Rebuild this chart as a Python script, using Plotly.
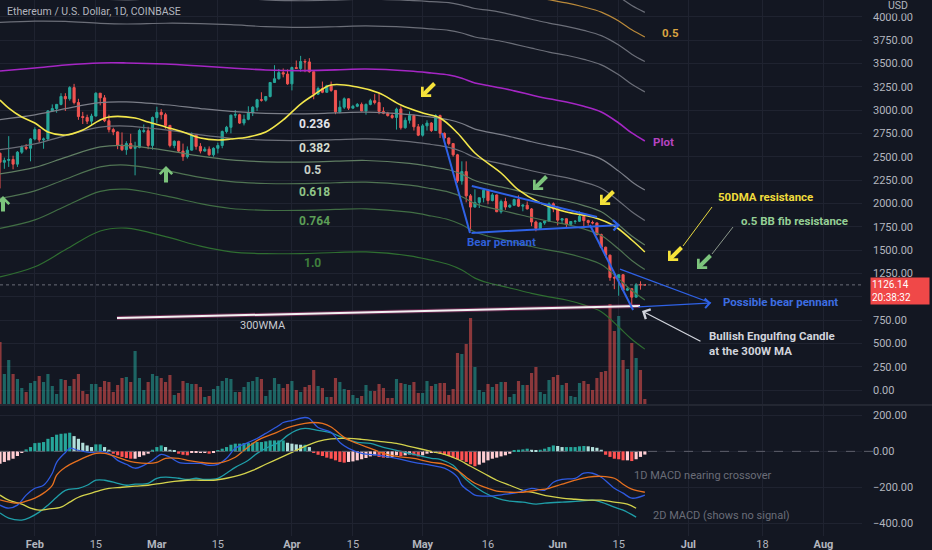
import pandas as pd
import plotly.graph_objects as go

# ---- daily ETH/USD candles (Coinbase), 24 Jan - 21 Jun 2022 ----
dates = pd.date_range("2022-01-24", periods=149, freq="D")

opens = [2536, 2440, 2460, 2470, 2420, 2548, 2600, 2590, 2690, 2790, 2680, 2690, 2990, 3015, 3060, 3145,
         3120, 3240, 3080, 2930, 2920, 2880, 2935, 3180, 3130, 2885, 2790, 2765, 2625, 2575, 2640, 2590,
         2600, 2770, 2778, 2620, 2920, 2975, 2950, 2835, 2620, 2665, 2560, 2500, 2570, 2730, 2610, 2560,
         2580, 2520, 2590, 2620, 2770, 2815, 2945, 2950, 2860, 2900, 2970, 3030, 3110, 3105, 3145, 3295,
         3335, 3400, 3385, 3280, 3455, 3445, 3520, 3515, 3410, 3170, 3230, 3190, 3260, 3210, 2980, 3030,
         3120, 3020, 3040, 3060, 2990, 3060, 3100, 3080, 2985, 2965, 2940, 2920, 3010, 2810, 2890, 2940,
         2820, 2730, 2830, 2860, 2780, 2940, 2750, 2700, 2640, 2520, 2240, 2340, 2080, 1960, 2010, 2060,
         2140, 2030, 2090, 1910, 2020, 1960, 1980, 2040, 1970, 1980, 1940, 1800, 1730, 1790, 1810, 1995,
         1940, 1820, 1835, 1775, 1805, 1808, 1860, 1815, 1795, 1790, 1665, 1530, 1445, 1205, 1200, 1235,
         1070, 1085, 995, 1128, 1127]
highs = [2545, 2490, 2720, 2510, 2560, 2620, 2635, 2700, 2815, 2790, 2705, 3000, 3060, 3065, 3180, 3180,
         3255, 3280, 3120, 2980, 2950, 2960, 3190, 3180, 3160, 2950, 2810, 2770, 2760, 2665, 2745, 2660,
         2800, 2845, 2820, 2930, 3035, 3010, 2970, 2840, 2675, 2670, 2640, 2610, 2760, 2735, 2645, 2605,
         2610, 2600, 2650, 2780, 2830, 2950, 3000, 2960, 2950, 3040, 3040, 3120, 3190, 3150, 3300, 3480,
         3440, 3445, 3435, 3465, 3530, 3580, 3545, 3555, 3415, 3250, 3305, 3270, 3305, 3210, 3100, 3135,
         3125, 3055, 3075, 3080, 3070, 3120, 3170, 3185, 3030, 2980, 2970, 3025, 3040, 2920, 2985, 2950,
         2850, 2850, 2890, 2870, 2955, 2950, 2760, 2705, 2645, 2530, 2450, 2450, 2100, 2150, 2060, 2150,
         2150, 2110, 2095, 2040, 2060, 1990, 2050, 2085, 1990, 2020, 1950, 1815, 1800, 1815, 2010, 2010,
         1970, 1840, 1840, 1810, 1820, 1915, 1865, 1825, 1815, 1795, 1675, 1535, 1450, 1245, 1240, 1240,
         1110, 1090, 1145, 1165, 1135]
lows = [2160, 2370, 2390, 2365, 2390, 2530, 2570, 2450, 2675, 2650, 2585, 2680, 2985, 2970, 3050, 2990,
        3100, 3060, 2895, 2850, 2850, 2830, 2930, 3050, 2870, 2760, 2730, 2580, 2560, 2520, 2580, 2300,
        2590, 2755, 2580, 2575, 2860, 2900, 2800, 2600, 2590, 2550, 2455, 2480, 2565, 2575, 2535, 2555,
        2510, 2500, 2535, 2590, 2750, 2750, 2915, 2850, 2835, 2890, 2935, 2990, 3090, 3090, 3135, 3290,
        3325, 3350, 3270, 3210, 3440, 3410, 3405, 3400, 3115, 3160, 3180, 3185, 3195, 2955, 2965, 3010,
        3000, 3015, 3030, 2985, 2950, 3050, 3060, 2955, 2955, 2930, 2905, 2790, 2790, 2800, 2855, 2780,
        2720, 2715, 2780, 2765, 2775, 2700, 2650, 2620, 2500, 2220, 2200, 2010, 1700, 1955, 1950, 2010,
        1990, 2020, 1905, 1890, 1930, 1950, 1975, 1960, 1915, 1935, 1755, 1700, 1715, 1770, 1800, 1905,
        1765, 1780, 1735, 1760, 1780, 1800, 1730, 1760, 1775, 1655, 1520, 1420, 1170, 1080, 1010, 1060,
        1060, 880, 990, 1075, 1118]
closes = [2440, 2460, 2470, 2420, 2548, 2600, 2590, 2690, 2790, 2680, 2690, 2990, 3015, 3060, 3145, 3120,
          3240, 3080, 2930, 2920, 2880, 2935, 3180, 3130, 2885, 2790, 2765, 2625, 2575, 2640, 2590, 2600,
          2780, 2778, 2620, 2920, 2975, 2950, 2835, 2620, 2665, 2560, 2500, 2570, 2730, 2610, 2560, 2580,
          2520, 2590, 2620, 2770, 2815, 2945, 2950, 2860, 2900, 2970, 3030, 3110, 3105, 3145, 3295, 3335,
          3400, 3385, 3280, 3455, 3445, 3520, 3515, 3410, 3170, 3230, 3190, 3260, 3210, 2980, 3030, 3120,
          3020, 3040, 3060, 2990, 3060, 3100, 3080, 2985, 2965, 2940, 2920, 3010, 2810, 2890, 2940, 2820,
          2730, 2830, 2860, 2780, 2940, 2750, 2700, 2640, 2520, 2240, 2340, 2080, 1960, 2010, 2060, 2140,
          2030, 2090, 1910, 2020, 1960, 1980, 2040, 1970, 1980, 1940, 1800, 1730, 1790, 1810, 1995, 1940,
          1820, 1835, 1775, 1805, 1808, 1860, 1815, 1795, 1790, 1665, 1530, 1445, 1205, 1200, 1235, 1070,
          1085, 995, 1128, 1127, 1126.14]
volumes = [620, 300, 440, 300, 250, 160, 120, 210, 230, 280, 220, 300, 180, 100, 250, 240,
           180, 250, 300, 130, 100, 200, 200, 170, 230, 220, 120, 190, 260, 270, 220, 530,
           260, 140, 220, 300, 280, 260, 220, 290, 90, 110, 230, 210, 200, 200, 170, 70,
           80, 150, 180, 230, 260, 250, 120, 120, 170, 220, 230, 270, 250, 80, 140, 260,
           200, 160, 200, 230, 140, 120, 170, 190, 340, 180, 160, 70, 70, 260, 220, 150,
           140, 90, 60, 80, 190, 130, 130, 200, 160, 60, 60, 250, 210, 200, 190, 220,
           110, 110, 230, 180, 200, 210, 210, 90, 150, 510, 500, 600, 860, 370, 140, 120,
           200, 170, 200, 220, 220, 70, 100, 230, 190, 190, 310, 370, 120, 100, 240, 270,
           290, 190, 210, 80, 70, 210, 230, 200, 140, 260, 320, 330, 1000, 730, 880, 440,
           350, 610, 460, 340, 50]

# ---- Bollinger fib bands: basis ("Plot") and 1.0 deviation, sampled ----
band_idx = [0, 8, 15, 23, 29, 38, 46, 53, 61, 69, 77, 84, 94, 99, 103, 106, 109, 112, 115, 118,
            122, 126, 130, 134, 138, 142, 145, 148]
basis = [3418, 3450, 3482, 3504, 3504, 3493, 3471, 3450, 3429, 3422, 3430, 3439, 3418, 3396, 3375,
         3340, 3289, 3262, 3236, 3205, 3161, 3120, 3086, 3040, 2979, 2861, 2754, 2668]
deviation = [2207, 2130, 1980, 1800, 1770, 1850, 1930, 1970, 1968, 1960, 1957, 1960, 1980, 2005, 2030,
             2054, 2090, 2113, 2120, 2123, 2125, 2123, 2122, 2128, 2140, 2186, 2210, 2230]
fib_levels = [0.236, 0.382, 0.5, 0.618, 0.764, 1.0]

# ---- 50DMA ----
ma_idx = [0, 2, 5, 8, 11, 15, 19, 23, 25, 31, 34, 38, 42, 46, 50, 53, 57, 61, 65, 69, 72, 76, 82,
          87, 92, 97, 101, 105, 109, 115, 119, 124, 130, 136, 141, 145, 148]
ma50 = [3107, 3021, 2925, 2861, 2764, 2732, 2786, 2893, 2925, 2914, 2871, 2818, 2764, 2700, 2679,
        2689, 2711, 2764, 2893, 3064, 3161, 3268, 3246, 3182, 3054, 2968, 2914, 2754, 2539, 2325,
        2143, 2004, 1907, 1854, 1757, 1607, 1479]

# ---- MACD panel ----
macd_hist = [-69, -59, -50, -41, -26, -9, 11, 24, 46, 48, 52, 70, 80, 93, 98, 100, 104, 85, 70, 48,
             33, 24, 39, 39, 24, 9, -13, -22, -31, -37, -41, -41, -31, -22, -13, 9, 24, 33, 24, 9,
             6, -13, -19, -22, -9, -9, -9, -9, -13, -9, 4, 15, 24, 37, 43, 43, 46, 46, 48, 52,
             52, 56, 61, 61, 61, 61, 48, 43, 39, 37, 37, 24, -9, -19, -26, -35, -41, -50, -59, -63,
             -59, -56, -50, -44, -37, -28, -22, -31, -35, -35, -31, -22, -26, -22, -17, -22, -28, -22, -13, -9,
             -9, -13, -19, -26, -35, -44, -50, -59, -72, -83, -74, -63, -50, -41, -35, -28, -22, -13, 6, 9,
             11, 15, 9, 6, 9, 15, 24, 33, 30, 24, 24, 24, 24, 28, 30, 28, 24, 20, 9, -19,
             -31, -41, -44, -50, -50, -54, -44, -31, -18]
macd1_idx = [0, 2, 4, 6, 8, 10, 12, 13, 15, 16, 18, 21, 23, 25, 27, 29, 31, 33, 35, 37, 39, 41, 44,
             46, 48, 50, 52, 54, 57, 59, 61, 64, 65, 67, 70, 71, 73, 76, 78, 80, 83, 87, 91, 95, 99,
             102, 105, 106, 108, 109, 112, 116, 119, 122, 125, 127, 129, 132, 134, 136, 138, 141, 143,
             145, 148]
macd1 = [-300, -317, -300, -244, -206, -189, -122, -61, -6, 17, 6, -6, 0, -11, -50, -72, -94, -78, -50,
         -17, -33, -61, -67, -67, -78, -72, -39, 17, 50, 72, 100, 144, 161, 172, 189, 183, 133, 106, 50,
         17, -11, -22, -39, -61, -78, -94, -144, -189, -228, -244, -250, -239, -228, -206, -217, -172,
         -156, -150, -122, -122, -144, -206, -233, -261, -244]
signal1_idx = [0, 4, 6, 8, 10, 12, 13, 15, 18, 20, 22, 24, 27, 29, 31, 34, 36, 38, 41, 43, 46, 49,
               51, 54, 56, 58, 60, 63, 65, 67, 70, 72, 74, 76, 79, 82, 85, 88, 91, 95, 99, 102, 105,
               107, 109, 112, 114, 117, 120, 123, 126, 129, 132, 135, 138, 141, 143, 145, 148]
signal1 = [-270, -289, -278, -261, -233, -189, -133, -89, -50, -28, -11, -11, -33, -50, -61, -67, -61,
           -39, -39, -50, -61, -67, -61, -33, 6, 44, 72, 100, 122, 139, 156, 161, 156, 136, 78, 44, 17,
           -11, -28, -39, -61, -72, -106, -144, -178, -206, -222, -228, -228, -217, -206, -183, -161,
           -144, -139, -150, -183, -211, -228]
macd2_idx = [0, 2, 5, 7, 9, 11, 13, 15, 18, 20, 22, 24, 27, 29, 31, 34, 36, 38, 41, 43, 45, 47, 50,
             52, 54, 57, 59, 61, 64, 66, 68, 70, 73, 76, 79, 82, 85, 88, 91, 95, 99, 101, 104, 106,
             108, 111, 114, 117, 120, 123, 125, 129, 133, 136, 138, 141, 143, 146]
macd2 = [-344, -372, -383, -367, -339, -300, -256, -217, -206, -189, -161, -161, -178, -189, -183, -178,
         -150, -144, -150, -156, -150, -156, -150, -122, -89, -50, -11, 17, 50, 89, 117, 128, 117, 103,
         72, 50, 44, 22, 6, -17, -39, -44, -78, -133, -178, -228, -261, -278, -283, -294, -289, -283,
         -278, -272, -283, -311, -328, -367]
signal2_idx = [0, 2, 5, 7, 9, 11, 14, 16, 18, 21, 23, 25, 28, 31, 34, 37, 40, 43, 46, 49, 52, 55, 58,
               61, 64, 67, 70, 73, 76, 80, 83, 87, 91, 95, 99, 102, 105, 108, 111, 114, 117, 120, 123,
               126, 129, 132, 135, 138, 141, 144, 146]
signal2 = [-244, -272, -294, -317, -328, -322, -311, -283, -256, -233, -217, -206, -200, -194, -189,
           -178, -167, -161, -161, -161, -150, -133, -106, -72, -39, -6, 28, 56, 70, 72, 67, 56, 44, 22,
           0, -17, -44, -83, -122, -161, -189, -217, -233, -250, -261, -267, -272, -272, -283, -294, -317]

# axis ticks
price_ticks = list(range(0, 4001, 250))
macd_ticks = [200, 0, -200, -400]
x_ticks = ["2022-02-01", "2022-02-15", "2022-03-01", "2022-03-15", "2022-04-01", "2022-04-15",
           "2022-05-01", "2022-05-16", "2022-06-01", "2022-06-15", "2022-07-01", "2022-07-18",
           "2022-08-01"]
x_labels = ["<b>Feb</b>", "15", "<b>Mar</b>", "15", "<b>Apr</b>", "15", "<b>May</b>", "16",
            "<b>Jun</b>", "15", "<b>Jul</b>", "18", "<b>Aug</b>"]
last_price = 1126.14

# ---------------------------------------------------------------
BG = "#131722"
GRID = "#1f2330"
TXT = "#b2b5be"
UP, DOWN = "#26a69a", "#ef5350"
W, H = 932, 550
PLOT_W, PLOT_H = 862, 536          # plot area in px (right axis outside)
FONT = "Roboto, sans-serif"


def px(x):
    return x / PLOT_W


def py(y):
    return 1 - y / PLOT_H


fig = go.Figure()

# volume (bottom of price pane, own hidden scale)
vol_colors = ["rgba(38,166,154,0.55)" if c >= o else "rgba(239,83,80,0.55)"
              for o, c in zip(opens, closes)]
fig.add_trace(go.Bar(x=dates, y=volumes, marker_color=vol_colors, marker_line_width=0,
                     xaxis="x", yaxis="y", hoverinfo="skip"))

# bands
band_x = dates[band_idx]
upper_cols = ["#6b6e78", "#6b6e78", "#b9893a", "#6b6e78", "#6b6e78", "#6b6e78"]
lower_cols = ["#7b7e88", "#6b6e78", "#5f7d62", "#4f7352", "#416e44", "#2f6e31"]
for k, f in enumerate(fib_levels):
    up = [b + f * d for b, d in zip(basis, deviation)]
    lo = [b - f * d for b, d in zip(basis, deviation)]
    fig.add_trace(go.Scatter(x=band_x, y=up, mode="lines", line=dict(color=upper_cols[k], width=1.2,
                             shape="spline"), xaxis="x", yaxis="y3", hoverinfo="skip"))
    fig.add_trace(go.Scatter(x=band_x, y=lo, mode="lines", line=dict(color=lower_cols[k], width=1.2,
                             shape="spline"), xaxis="x", yaxis="y3", hoverinfo="skip"))
fig.add_trace(go.Scatter(x=band_x, y=basis, mode="lines", line=dict(color="#a526c4", width=1.6,
                         shape="spline"), xaxis="x", yaxis="y3", hoverinfo="skip"))

# 50DMA
fig.add_trace(go.Scatter(x=dates[ma_idx], y=ma50, mode="lines",
                         line=dict(color="#f3e74b", width=1.6, shape="spline"),
                         xaxis="x", yaxis="y3", hoverinfo="skip"))

# candles
fig.add_trace(go.Candlestick(x=dates, open=opens, high=highs, low=lows, close=closes,
                             increasing=dict(line=dict(color=UP, width=1), fillcolor=UP),
                             decreasing=dict(line=dict(color=DOWN, width=1), fillcolor=DOWN),
                             whiskerwidth=0, xaxis="x", yaxis="y3", hoverinfo="skip"))

# MACD histogram colours (rising / falling like TradingView)
hist_cols = []
for i, v in enumerate(macd_hist):
    prev = macd_hist[i - 1] if i else v
    if v >= 0:
        hist_cols.append("#26a69a" if v >= prev else "#b2dfdb")
    else:
        hist_cols.append("#ff5252" if v < prev else "#ffcdd2")
fig.add_trace(go.Bar(x=dates, y=macd_hist, marker_color=hist_cols, marker_line_width=0,
                     xaxis="x2", yaxis="y2", hoverinfo="skip"))
for idx, vals, col in [(macd2_idx, macd2, "#1f9ea8"), (signal2_idx, signal2, "#d3d24c"),
                       (macd1_idx, macd1, "#2f5ae0"), (signal1_idx, signal1, "#e6701f")]:
    fig.add_trace(go.Scatter(x=dates[idx], y=vals, mode="lines",
                             line=dict(color=col, width=1.3, shape="spline"),
                             xaxis="x2", yaxis="y2", hoverinfo="skip"))

# ---- layout ----
x_range = ["2022-01-24 00:00", "2022-08-09 20:10"]
price_dom = [1 - 404 / PLOT_H, 1]
macd_dom = [0, 1 - 406 / PLOT_H]
axis_font = dict(family=FONT, size=11, color=TXT)

fig.update_layout(
    width=W, height=H, margin=dict(l=0, r=W - PLOT_W, t=0, b=H - PLOT_H),
    paper_bgcolor=BG, plot_bgcolor=BG, showlegend=False, bargap=0.28,
    font=dict(family=FONT, color=TXT),
    xaxis=dict(domain=[0, 1], range=x_range, anchor="y", showticklabels=False,
               tickvals=x_ticks, showgrid=True, gridcolor=GRID, zeroline=False,
               rangeslider=dict(visible=False), showline=False),
    yaxis=dict(domain=price_dom, range=[0, 4040], visible=False, fixedrange=True),
    yaxis3=dict(overlaying="y", side="right", range=[-150, 4178.6], anchor="x",
                tickvals=price_ticks,
                ticktext=["" if v == 1000 else f"{v:.2f}" for v in price_ticks],
                showgrid=True, gridcolor=GRID, zeroline=False, ticks="",
                ticklabelstandoff=10, tickfont=axis_font, showline=False),
    xaxis2=dict(domain=[0, 1], range=x_range, anchor="y2", tickvals=x_ticks, ticktext=x_labels,
                showgrid=True, gridcolor=GRID, zeroline=False, ticks="", tickfont=axis_font,
                showline=False),
    yaxis2=dict(domain=macd_dom, range=[-472, 253], side="right", anchor="x2",
                tickvals=macd_ticks,
                ticktext=["200.00", "0.00", "\u2212200.00", "\u2212400.00"],
                showgrid=True, gridcolor=GRID, zeroline=False, ticks="",
                ticklabelstandoff=10, tickfont=axis_font, showline=False),
)

# ---- drawings from the original chart ----
shapes = []
# pane separator
shapes.append(dict(type="line", xref="paper", yref="paper", x0=0, x1=px(W), y0=py(405), y1=py(405),
                   line=dict(color="#2a2e39", width=1.5)))
# MACD zero line
shapes.append(dict(type="line", xref="paper", yref="y2", x0=0, x1=px(876), y0=0, y1=0,
                   line=dict(color="#5d606b", width=1, dash="dash")))
# last price line
shapes.append(dict(type="line", xref="paper", yref="y3", x0=0, x1=1, y0=last_price, y1=last_price,
                   line=dict(color="#6a6d78", width=1, dash="dot")))
# 300WMA trend line
for col, wd in [("rgba(200,60,130,0.45)", 4), ("#f2f2f2", 2)]:
    shapes.append(dict(type="line", xref="x", yref="y3", x0="2022-02-19 20:24", y0=771,
                       x1="2022-06-19 21:36", y1=900, line=dict(color=col, width=wd)))
# bear pennant (blue)
BLUE = "#2f62e6"
for x0, y0, x1, y1 in [("2022-05-05 10:48", 2753, "2022-05-11 20:53", 1682),
                       ("2022-05-12 07:00", 2186, "2022-06-10 00:00", 1854),
                       ("2022-06-08 09:36", 1768, "2022-06-18 07:12", 857),
                       ("2022-06-15 07:12", 1296, "2022-07-06 04:48", 932)]:
    shapes.append(dict(type="line", xref="x", yref="y3", x0=x0, y0=y0, x1=x1, y1=y1,
                       line=dict(color=BLUE, width=2 if y0 > 1500 else 1.3)))
# thin pointer lines to the labels
shapes.append(dict(type="line", xref="paper", yref="paper", x0=px(712), y0=py(207), x1=px(683),
                   y1=py(246), line=dict(color="#e6d840", width=1)))
shapes.append(dict(type="line", xref="paper", yref="paper", x0=px(733), y0=py(227), x1=px(712),
                   y1=py(254), line=dict(color="#8a968a", width=1)))
fig.update_layout(shapes=shapes)

ann = []


def label(text, x, y, color, size=11.5, bold=True, bg=None):
    ann.append(dict(text=f"<b>{text}</b>" if bold else text, x=px(x), y=py(y), xref="paper",
                    yref="paper", xanchor="left", yanchor="middle", showarrow=False, align="left",
                    font=dict(family=FONT, size=size, color=color), bgcolor=bg))


def icon_arrow(tip, tail, color, width=4, size=0.6):
    ann.append(dict(text="", x=px(tip[0]), y=py(tip[1]), xref="paper", yref="paper",
                    ax=tail[0] - tip[0], ay=tail[1] - tip[1], axref="pixel", ayref="pixel",
                    showarrow=True, arrowhead=4, arrowwidth=width, arrowsize=size,
                    arrowcolor=color))


label("Ethereum / U.S. Dollar, 1D, COINBASE", 5, 11, TXT, size=10.5, bold=False)
label("USD", 886, 6, TXT, size=10.5, bold=False, bg=BG)
for t, x, y, c in [("0.236", 297, 124, "#e1e3ea"), ("0.382", 297, 148, "#d3dccf"),
                   ("0.5", 302, 170, "#c6cfc6"), ("0.618", 297, 192, "#8fc487"),
                   ("0.764", 297, 221, "#5c9e57"), ("1.0", 302, 263, "#3f7f3c")]:
    label(t, x, y, c, size=12)
label("0.5", 660, 33, "#d9a441")
label("Plot", 651, 142, "#b444c0")
label("50DMA resistance", 716, 197, "#f0dc3c")
label("o.5 BB fib resistance", 739, 221, "#95cf95")
label("Bear pennant", 465, 242, "#2f5fd8")
label("Possible bear pennant", 721, 302, "#3d6de0")
label("Bullish Engulfing Candle<br>at the 300W MA", 707, 343, "#d1d4dc")
label("300WMA", 238, 325, "#c8cad0", size=11, bold=False)
label("1D MACD nearing crossover", 632, 475, "#6a6d78", size=11, bold=False)
label("2D MACD (shows no signal)", 651, 515, "#6a6d78", size=11, bold=False)
# last price box
ann.append(dict(text="1126.14<br>20:38:32", x=px(870), y=py(291), xref="paper", yref="paper",
                xanchor="left", yanchor="middle", showarrow=False, align="left", width=56,
                font=dict(family=FONT, size=10, color="#ffffff"), bgcolor="#f04848",
                borderpad=1))

YEL, GRN = "#f5e23a", "#7cc47c"
icon_arrow((421, 97), (436, 82), YEL)
icon_arrow((533, 190), (548, 175), GRN)
icon_arrow((600, 205), (615, 190), YEL)
icon_arrow((668, 261), (683, 246), YEL)
icon_arrow((697, 269), (712, 254), GRN)
icon_arrow((166, 166), (166, 184), GRN)
icon_arrow((3, 196), (3, 213), GRN)

# blue pennant arrows and the white pointer (anchored to price/time)
for tip, tail, col, wd in [(("2022-06-15 07:12", 1768), ("2022-05-11 20:53", 1682), BLUE, 2),
                           (("2022-07-06 04:48", 932), ("2022-06-19 04:48", 889), BLUE, 1.3)]:
    ann.append(dict(text="", x=tip[0], y=tip[1], xref="x", yref="y3", ax=tail[0], ay=tail[1],
                    axref="x", ayref="y3", showarrow=True, arrowhead=4, arrowwidth=wd,
                    arrowsize=1.4 if wd < 2 else 1, arrowcolor=col))
ann.append(dict(text="", x=px(642), y=py(311), xref="paper", yref="paper", ax=60, ay=31,
                axref="pixel", ayref="pixel", showarrow=True, arrowhead=4, arrowwidth=1.3,
                arrowsize=1.6, arrowcolor="#d1d4dc"))
fig.update_layout(annotations=ann)

# page body has a default margin; drop it so the 932x550 figure fills the window
fig.write_html("out.html", config={"displayModeBar": False},
               post_script="document.body.style.margin='0';")
